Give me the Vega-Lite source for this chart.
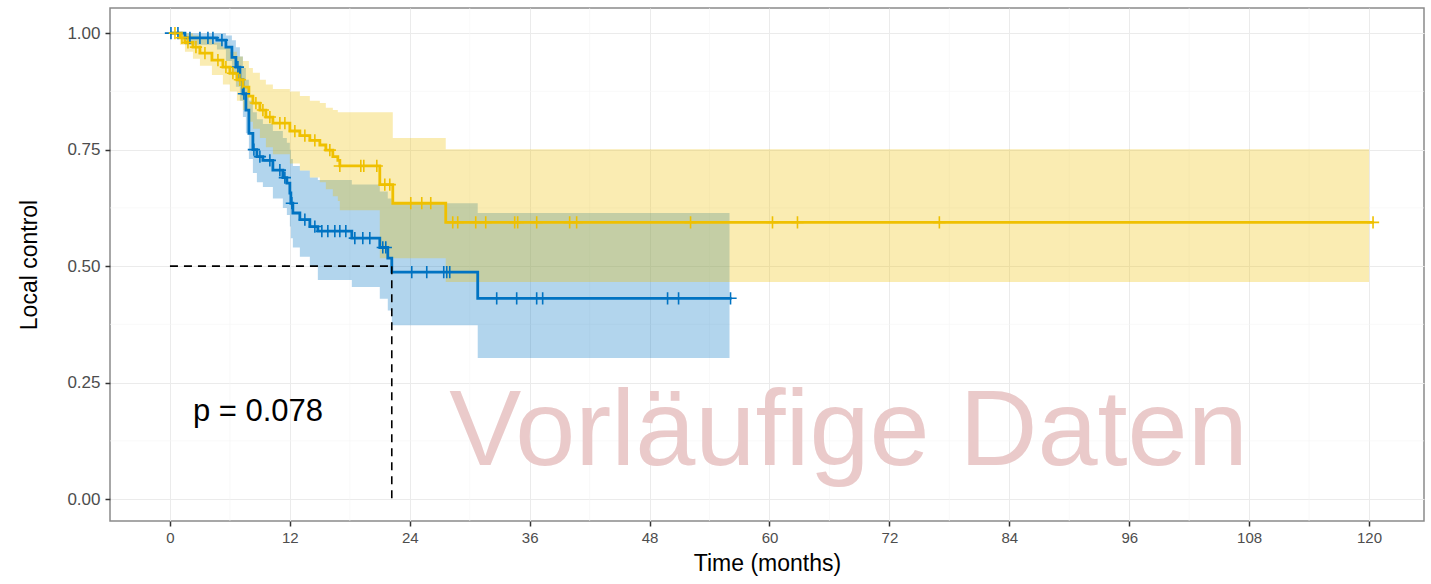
{
  "$schema": "https://vega.github.io/schema/vega-lite/v6.json",
  "width": 1314,
  "height": 513,
  "autosize": {"type": "none"},
  "padding": {"left": 110, "top": 8, "right": 7, "bottom": 63},
  "background": "white",
  "config": {
    "view": {"stroke": "#8a8a8a", "strokeWidth": 1.5},
    "font": "Liberation Sans",
    "axis": {
      "domain": false,
      "grid": true,
      "gridColor": "#EBEBEB",
      "gridWidth": 1,
      "tickColor": "#333333",
      "tickSize": 5,
      "tickWidth": 1.5,
      "labelColor": "#4D4D4D",
      "labelFont": "Liberation Sans",
      "labelFontSize": 15,
      "titleFont": "Liberation Sans",
      "titleFontSize": 23,
      "titleFontWeight": "normal",
      "titleColor": "#000000"
    }
  },
  "datasets": {
    "minorx": [{"v": 6}, {"v": 18}, {"v": 30}, {"v": 42}, {"v": 54}, {"v": 66}, {"v": 78}, {"v": 90}, {"v": 102}, {"v": 114}],
    "minory": [{"v": 0.125}, {"v": 0.375}, {"v": 0.625}, {"v": 0.875}],
    "curve": [
      {"g": "A", "t": 0, "s": 1.0},
      {"g": "A", "t": 1.5, "s": 0.99},
      {"g": "A", "t": 4.7, "s": 0.985},
      {"g": "A", "t": 5.6, "s": 0.97},
      {"g": "A", "t": 6.2, "s": 0.948},
      {"g": "A", "t": 6.6, "s": 0.927},
      {"g": "A", "t": 7.0, "s": 0.9},
      {"g": "A", "t": 7.3, "s": 0.87},
      {"g": "A", "t": 7.6, "s": 0.835},
      {"g": "A", "t": 7.9, "s": 0.785},
      {"g": "A", "t": 8.3, "s": 0.75},
      {"g": "A", "t": 8.7, "s": 0.735},
      {"g": "A", "t": 9.3, "s": 0.727},
      {"g": "A", "t": 10.3, "s": 0.706},
      {"g": "A", "t": 11.3, "s": 0.69},
      {"g": "A", "t": 11.7, "s": 0.678},
      {"g": "A", "t": 12.0, "s": 0.657},
      {"g": "A", "t": 12.1, "s": 0.635},
      {"g": "A", "t": 12.3, "s": 0.614},
      {"g": "A", "t": 13.0, "s": 0.6},
      {"g": "A", "t": 14.0, "s": 0.585},
      {"g": "A", "t": 14.8, "s": 0.575},
      {"g": "A", "t": 18.2, "s": 0.56},
      {"g": "A", "t": 21.0, "s": 0.54},
      {"g": "A", "t": 21.8, "s": 0.517},
      {"g": "A", "t": 22.2, "s": 0.487},
      {"g": "A", "t": 30.8, "s": 0.431},
      {"g": "A", "t": 56.2, "s": 0.431},
      {"g": "B", "t": 0, "s": 1.0},
      {"g": "B", "t": 1.0, "s": 0.99},
      {"g": "B", "t": 1.5, "s": 0.98},
      {"g": "B", "t": 2.3, "s": 0.97},
      {"g": "B", "t": 3.0, "s": 0.957},
      {"g": "B", "t": 4.2, "s": 0.942},
      {"g": "B", "t": 5.3, "s": 0.927},
      {"g": "B", "t": 6.0, "s": 0.914},
      {"g": "B", "t": 6.7, "s": 0.9},
      {"g": "B", "t": 7.3, "s": 0.884},
      {"g": "B", "t": 7.9, "s": 0.865},
      {"g": "B", "t": 8.3, "s": 0.85},
      {"g": "B", "t": 9.0, "s": 0.835},
      {"g": "B", "t": 9.6, "s": 0.82},
      {"g": "B", "t": 10.3, "s": 0.807},
      {"g": "B", "t": 12.0, "s": 0.79},
      {"g": "B", "t": 13.0, "s": 0.78},
      {"g": "B", "t": 14.0, "s": 0.77},
      {"g": "B", "t": 15.0, "s": 0.76},
      {"g": "B", "t": 15.6, "s": 0.749},
      {"g": "B", "t": 16.3, "s": 0.735},
      {"g": "B", "t": 16.8, "s": 0.727},
      {"g": "B", "t": 17.0, "s": 0.715},
      {"g": "B", "t": 21.0, "s": 0.675},
      {"g": "B", "t": 22.3, "s": 0.635},
      {"g": "B", "t": 27.6, "s": 0.594},
      {"g": "B", "t": 120.5, "s": 0.594}
    ],
    "band": [
      {"g": "A", "t": 0, "lo": 1.0, "hi": 1.0},
      {"g": "A", "t": 1.5, "lo": 0.975, "hi": 1.0},
      {"g": "A", "t": 4.7, "lo": 0.965, "hi": 1.0},
      {"g": "A", "t": 5.6, "lo": 0.94, "hi": 0.995},
      {"g": "A", "t": 6.2, "lo": 0.91, "hi": 0.985},
      {"g": "A", "t": 6.6, "lo": 0.885, "hi": 0.97},
      {"g": "A", "t": 7.0, "lo": 0.855, "hi": 0.95},
      {"g": "A", "t": 7.3, "lo": 0.82, "hi": 0.925},
      {"g": "A", "t": 7.6, "lo": 0.785, "hi": 0.9},
      {"g": "A", "t": 7.9, "lo": 0.73, "hi": 0.855},
      {"g": "A", "t": 8.3, "lo": 0.7, "hi": 0.83},
      {"g": "A", "t": 8.7, "lo": 0.68, "hi": 0.815},
      {"g": "A", "t": 9.3, "lo": 0.67, "hi": 0.805},
      {"g": "A", "t": 10.3, "lo": 0.645, "hi": 0.79},
      {"g": "A", "t": 11.3, "lo": 0.625, "hi": 0.775},
      {"g": "A", "t": 11.7, "lo": 0.61, "hi": 0.765},
      {"g": "A", "t": 12.0, "lo": 0.585, "hi": 0.75},
      {"g": "A", "t": 12.1, "lo": 0.56, "hi": 0.73},
      {"g": "A", "t": 12.3, "lo": 0.54, "hi": 0.715},
      {"g": "A", "t": 13.0, "lo": 0.52, "hi": 0.705},
      {"g": "A", "t": 14.0, "lo": 0.5, "hi": 0.69},
      {"g": "A", "t": 14.8, "lo": 0.47, "hi": 0.685},
      {"g": "A", "t": 18.2, "lo": 0.455, "hi": 0.675},
      {"g": "A", "t": 21.0, "lo": 0.43, "hi": 0.66},
      {"g": "A", "t": 21.8, "lo": 0.405, "hi": 0.645},
      {"g": "A", "t": 22.2, "lo": 0.373, "hi": 0.635},
      {"g": "A", "t": 30.8, "lo": 0.303, "hi": 0.614},
      {"g": "A", "t": 56.0, "lo": 0.303, "hi": 0.614},
      {"g": "B", "t": 0, "lo": 1.0, "hi": 1.0},
      {"g": "B", "t": 1.0, "lo": 0.975, "hi": 1.0},
      {"g": "B", "t": 1.5, "lo": 0.96, "hi": 1.0},
      {"g": "B", "t": 2.3, "lo": 0.945, "hi": 0.995},
      {"g": "B", "t": 3.0, "lo": 0.93, "hi": 0.99},
      {"g": "B", "t": 4.2, "lo": 0.91, "hi": 0.98},
      {"g": "B", "t": 5.3, "lo": 0.89, "hi": 0.97},
      {"g": "B", "t": 6.0, "lo": 0.875, "hi": 0.96},
      {"g": "B", "t": 6.7, "lo": 0.855, "hi": 0.95},
      {"g": "B", "t": 7.3, "lo": 0.835, "hi": 0.94},
      {"g": "B", "t": 7.9, "lo": 0.81, "hi": 0.925},
      {"g": "B", "t": 8.3, "lo": 0.795, "hi": 0.915},
      {"g": "B", "t": 9.0, "lo": 0.775, "hi": 0.9},
      {"g": "B", "t": 9.6, "lo": 0.755, "hi": 0.89},
      {"g": "B", "t": 10.3, "lo": 0.74, "hi": 0.88},
      {"g": "B", "t": 12.0, "lo": 0.72, "hi": 0.875},
      {"g": "B", "t": 13.0, "lo": 0.705, "hi": 0.865},
      {"g": "B", "t": 14.0, "lo": 0.69, "hi": 0.855},
      {"g": "B", "t": 15.0, "lo": 0.68, "hi": 0.85},
      {"g": "B", "t": 15.6, "lo": 0.665, "hi": 0.84},
      {"g": "B", "t": 16.3, "lo": 0.65, "hi": 0.835},
      {"g": "B", "t": 16.8, "lo": 0.64, "hi": 0.83},
      {"g": "B", "t": 17.0, "lo": 0.62, "hi": 0.83},
      {"g": "B", "t": 21.0, "lo": 0.517, "hi": 0.83},
      {"g": "B", "t": 22.3, "lo": 0.517, "hi": 0.775},
      {"g": "B", "t": 27.6, "lo": 0.466, "hi": 0.751},
      {"g": "B", "t": 120.0, "lo": 0.466, "hi": 0.751}
    ],
    "censor": [
      {"g": "A", "t": 0.1, "s": 1.0},
      {"g": "A", "t": 0.8, "s": 1.0},
      {"g": "A", "t": 2.0, "s": 0.99},
      {"g": "A", "t": 3.0, "s": 0.99},
      {"g": "A", "t": 3.8, "s": 0.99},
      {"g": "A", "t": 4.3, "s": 0.99},
      {"g": "A", "t": 5.2, "s": 0.985},
      {"g": "A", "t": 6.8, "s": 0.927},
      {"g": "A", "t": 7.4, "s": 0.87},
      {"g": "A", "t": 8.4, "s": 0.75},
      {"g": "A", "t": 9.0, "s": 0.735},
      {"g": "A", "t": 10.0, "s": 0.727},
      {"g": "A", "t": 11.0, "s": 0.706},
      {"g": "A", "t": 11.5, "s": 0.69},
      {"g": "A", "t": 12.2, "s": 0.635},
      {"g": "A", "t": 13.5, "s": 0.6},
      {"g": "A", "t": 14.5, "s": 0.585},
      {"g": "A", "t": 15.2, "s": 0.575},
      {"g": "A", "t": 15.8, "s": 0.575},
      {"g": "A", "t": 16.5, "s": 0.575},
      {"g": "A", "t": 17.0, "s": 0.575},
      {"g": "A", "t": 17.6, "s": 0.575},
      {"g": "A", "t": 18.5, "s": 0.56},
      {"g": "A", "t": 19.3, "s": 0.56},
      {"g": "A", "t": 20.0, "s": 0.56},
      {"g": "A", "t": 21.3, "s": 0.54},
      {"g": "A", "t": 21.6, "s": 0.54},
      {"g": "A", "t": 24.2, "s": 0.487},
      {"g": "A", "t": 25.7, "s": 0.487},
      {"g": "A", "t": 27.4, "s": 0.487},
      {"g": "A", "t": 27.7, "s": 0.487},
      {"g": "A", "t": 28.0, "s": 0.487},
      {"g": "A", "t": 32.7, "s": 0.431},
      {"g": "A", "t": 34.7, "s": 0.431},
      {"g": "A", "t": 36.7, "s": 0.431},
      {"g": "A", "t": 37.3, "s": 0.431},
      {"g": "A", "t": 49.8, "s": 0.431},
      {"g": "A", "t": 50.9, "s": 0.431},
      {"g": "A", "t": 56.1, "s": 0.431},
      {"g": "B", "t": 0.5, "s": 1.0},
      {"g": "B", "t": 1.2, "s": 0.99},
      {"g": "B", "t": 1.8, "s": 0.98},
      {"g": "B", "t": 2.6, "s": 0.97},
      {"g": "B", "t": 3.5, "s": 0.957},
      {"g": "B", "t": 4.8, "s": 0.942},
      {"g": "B", "t": 5.6, "s": 0.927},
      {"g": "B", "t": 6.3, "s": 0.914},
      {"g": "B", "t": 7.0, "s": 0.9},
      {"g": "B", "t": 8.6, "s": 0.85},
      {"g": "B", "t": 9.3, "s": 0.835},
      {"g": "B", "t": 10.0, "s": 0.82},
      {"g": "B", "t": 11.0, "s": 0.807},
      {"g": "B", "t": 11.5, "s": 0.807},
      {"g": "B", "t": 12.5, "s": 0.79},
      {"g": "B", "t": 13.5, "s": 0.78},
      {"g": "B", "t": 14.5, "s": 0.77},
      {"g": "B", "t": 16.0, "s": 0.749},
      {"g": "B", "t": 17.0, "s": 0.715},
      {"g": "B", "t": 19.1, "s": 0.715},
      {"g": "B", "t": 19.4, "s": 0.715},
      {"g": "B", "t": 20.7, "s": 0.715},
      {"g": "B", "t": 21.5, "s": 0.675},
      {"g": "B", "t": 22.0, "s": 0.675},
      {"g": "B", "t": 24.1, "s": 0.635},
      {"g": "B", "t": 25.2, "s": 0.635},
      {"g": "B", "t": 26.1, "s": 0.635},
      {"g": "B", "t": 28.3, "s": 0.594},
      {"g": "B", "t": 28.8, "s": 0.594},
      {"g": "B", "t": 30.6, "s": 0.594},
      {"g": "B", "t": 31.6, "s": 0.594},
      {"g": "B", "t": 34.5, "s": 0.594},
      {"g": "B", "t": 34.8, "s": 0.594},
      {"g": "B", "t": 36.7, "s": 0.594},
      {"g": "B", "t": 40.0, "s": 0.594},
      {"g": "B", "t": 40.7, "s": 0.594},
      {"g": "B", "t": 52.1, "s": 0.594},
      {"g": "B", "t": 60.3, "s": 0.594},
      {"g": "B", "t": 62.8, "s": 0.594},
      {"g": "B", "t": 77.0, "s": 0.594},
      {"g": "B", "t": 120.4, "s": 0.594}
    ],
    "median": [
      {"x1": 0, "x2": 22.2, "y1": 0.5, "y2": 0.5},
      {"x1": 22.2, "x2": 22.2, "y1": 0.5, "y2": 0}
    ],
    "pval": [{"t": 2.3, "s": 0.167, "label": "p = 0.078"}],
    "mark": [{"t": 67.9, "s": 0.073, "label": "Vorläufige Daten"}]
  },
  "layer": [
    {
      "data": {"name": "minorx"},
      "mark": {"type": "rule", "color": "#F5F5F5", "strokeWidth": 0.6},
      "encoding": {"x": {"field": "v", "type": "quantitative", "scale": {"domain": [-6.0, 125.5], "nice": false, "zero": false}}}
    },
    {
      "data": {"name": "minory"},
      "mark": {"type": "rule", "color": "#F5F5F5", "strokeWidth": 0.6},
      "encoding": {"y": {"field": "v", "type": "quantitative", "scale": {"domain": [-0.047, 1.054], "nice": false, "zero": false}}}
    },
    {
      "data": {"name": "band"},
      "mark": {"type": "area", "interpolate": "step-after", "opacity": 0.3},
      "encoding": {
        "x": {"field": "t", "type": "quantitative", "scale": {"domain": [-6.0, 125.5], "nice": false, "zero": false},
              "axis": {"values": [0, 12, 24, 36, 48, 60, 72, 84, 96, 108, 120], "title": "Time (months)", "labelPadding": 4, "titlePadding": 7}},
        "y": {"field": "lo", "type": "quantitative", "scale": {"domain": [-0.047, 1.054], "nice": false, "zero": false},
              "axis": {"values": [0, 0.25, 0.5, 0.75, 1.0], "format": ".2f", "title": "Local control", "labelPadding": 5, "labelFontSize": 17, "titlePadding": 25}},
        "y2": {"field": "hi"},
        "color": {"field": "g", "type": "nominal", "scale": {"domain": ["A", "B"], "range": ["#0073C2", "#EFC000"]}, "legend": null}
      }
    },
    {
      "data": {"name": "curve"},
      "mark": {"type": "line", "interpolate": "step-after", "strokeWidth": 2.8},
      "encoding": {
        "x": {"field": "t", "type": "quantitative"},
        "y": {"field": "s", "type": "quantitative"},
        "color": {"field": "g", "type": "nominal", "legend": null}
      }
    },
    {
      "data": {"name": "censor"},
      "mark": {"type": "point", "shape": "M-1,0L1,0M0,-1L0,1", "filled": false, "size": 150, "strokeWidth": 1.6, "opacity": 1},
      "encoding": {
        "x": {"field": "t", "type": "quantitative"},
        "y": {"field": "s", "type": "quantitative"},
        "color": {"field": "g", "type": "nominal", "legend": null}
      }
    },
    {
      "data": {"name": "median"},
      "mark": {"type": "rule", "color": "#000000", "strokeWidth": 1.6, "strokeDash": [8, 6]},
      "encoding": {
        "x": {"field": "x1", "type": "quantitative"},
        "x2": {"field": "x2"},
        "y": {"field": "y1", "type": "quantitative"},
        "y2": {"field": "y2"}
      }
    },
    {
      "data": {"name": "pval"},
      "mark": {"type": "text", "align": "left", "baseline": "alphabetic", "fontSize": 31, "font": "Liberation Sans", "color": "#000000"},
      "encoding": {
        "x": {"field": "t", "type": "quantitative"},
        "y": {"field": "s", "type": "quantitative"},
        "text": {"field": "label"}
      }
    },
    {
      "data": {"name": "mark"},
      "mark": {"type": "text", "align": "center", "baseline": "alphabetic", "fontSize": 108, "font": "Liberation Sans", "color": "#EACACA"},
      "encoding": {
        "x": {"field": "t", "type": "quantitative"},
        "y": {"field": "s", "type": "quantitative"},
        "text": {"field": "label"}
      }
    }
  ]
}
